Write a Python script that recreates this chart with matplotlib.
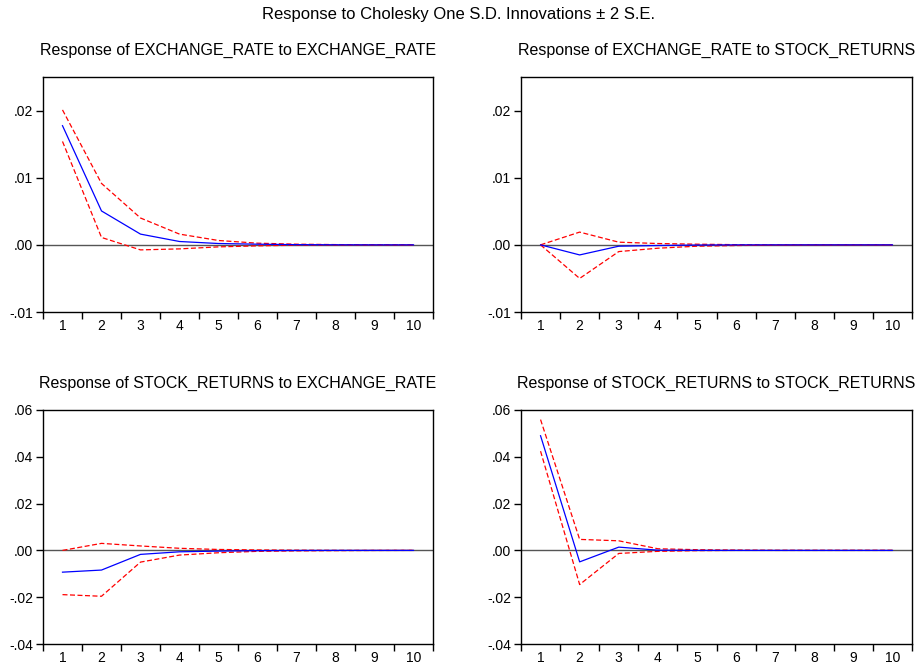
import matplotlib
matplotlib.use("Agg")
import matplotlib.pyplot as plt
import numpy as np
from matplotlib.ticker import FuncFormatter

plt.rcParams['font.family'] = ['Liberation Sans', 'DejaVu Sans']

periods = np.arange(1, 11)

# Response of EXCHANGE_RATE to EXCHANGE_RATE
er_er = [0.01775, 0.00505, 0.0016, 0.0005, 0.0002, 0.0001, 0.00003, 0.00001, 0.0, 0.0]
er_er_up = [0.0201, 0.00915, 0.0040, 0.0016, 0.00065, 0.00025, 0.0001, 0.00004, 0.00001, 0.0]
er_er_lo = [0.0154, 0.0011, -0.00075, -0.0006, -0.0003, -0.00015, -0.00005, -0.00002, 0.0, 0.0]

# Response of EXCHANGE_RATE to STOCK_RETURNS
er_sr = [0.0, -0.0015, -0.0002, -0.0001, -0.00003, 0.0, 0.0, 0.0, 0.0, 0.0]
er_sr_up = [0.0, 0.0019, 0.0004, 0.0002, 0.0001, 0.00003, 0.0, 0.0, 0.0, 0.0]
er_sr_lo = [0.0, -0.0050, -0.0010, -0.0005, -0.0002, -0.0001, -0.00003, 0.0, 0.0, 0.0]

# Response of STOCK_RETURNS to EXCHANGE_RATE
sr_er = [-0.0093, -0.0084, -0.0017, -0.0006, -0.0003, -0.0001, -0.00004, 0.0, 0.0, 0.0]
sr_er_up = [0.0, 0.0030, 0.0019, 0.0009, 0.0004, 0.0002, 0.0001, 0.00003, 0.0, 0.0]
sr_er_lo = [-0.0189, -0.0196, -0.0050, -0.0020, -0.0010, -0.0004, -0.0002, -0.0001, -0.00003, 0.0]

# Response of STOCK_RETURNS to STOCK_RETURNS
sr_sr = [0.0490, -0.0049, 0.0014, 0.0001, 0.0, 0.0, 0.0, 0.0, 0.0, 0.0]
sr_sr_up = [0.0559, 0.0047, 0.0041, 0.0007, 0.0003, 0.0001, 0.0, 0.0, 0.0, 0.0]
sr_sr_lo = [0.0424, -0.0146, -0.0013, -0.0004, -0.0001, 0.0, 0.0, 0.0, 0.0, 0.0]

titles = ["Response of EXCHANGE_RATE to EXCHANGE_RATE",
          "Response of EXCHANGE_RATE to STOCK_RETURNS",
          "Response of STOCK_RETURNS to EXCHANGE_RATE",
          "Response of STOCK_RETURNS to STOCK_RETURNS"]
series = [(er_er, er_er_up, er_er_lo), (er_sr, er_sr_up, er_sr_lo),
          (sr_er, sr_er_up, sr_er_lo), (sr_sr, sr_sr_up, sr_sr_lo)]
ylims = [(-0.01, 0.025), (-0.01, 0.025), (-0.04, 0.06), (-0.04, 0.06)]
yticks = [[-0.01, 0.0, 0.01, 0.02], [-0.01, 0.0, 0.01, 0.02],
          [-0.04, -0.02, 0.0, 0.02, 0.04, 0.06], [-0.04, -0.02, 0.0, 0.02, 0.04, 0.06]]

W, H = 916, 666
# axes boxes in pixels: left, top, right, bottom
boxes = [(43, 77, 433, 312), (521, 77, 912, 312),
         (43, 410, 433, 644), (521, 410, 912, 644)]


def fmt(v, pos):
    s = "%.2f" % v
    if s.startswith("-0"):
        return "-" + s[2:]
    if s.startswith("0"):
        return s[1:]
    return s


fig = plt.figure(figsize=(W / 100, H / 100), dpi=100)
fig.suptitle("Response to Cholesky One S.D. Innovations \u00b1 2 S.E.",
             y=1 - 15 / H, va="center", fontsize=12)

for i in range(4):
    l, t, r, b = boxes[i]
    ax = fig.add_axes([l / W, 1 - b / H, (r - l) / W, (b - t) / H])
    mid, up, lo = series[i]
    ax.axhline(0, color="#555555", lw=1.0, zorder=1)
    ax.plot(periods, up, color="red", lw=0.9, ls=(0, (4, 2)), zorder=2)
    ax.plot(periods, lo, color="red", lw=0.9, ls=(0, (4, 2)), zorder=2)
    ax.plot(periods, mid, color="blue", lw=0.9, zorder=3)
    ax.set_xlim(0.5, 10.5)
    ax.set_ylim(*ylims[i])
    ax.set_yticks(yticks[i])
    ax.yaxis.set_major_formatter(FuncFormatter(fmt))
    ax.set_xticks(periods)
    ax.set_xticks(np.arange(0.5, 11, 1), minor=True)
    ax.tick_params(axis="x", which="major", length=0, labelsize=10, pad=5)
    ax.tick_params(axis="x", which="minor", length=5, width=1, direction="out")
    ax.tick_params(axis="y", length=5, width=1, direction="out", labelsize=10, pad=2)
    for s in ax.spines.values():
        s.set_linewidth(1.0)
    ax.set_title(titles[i], fontsize=11.5, pad=16)

fig.savefig("out.png", dpi=100)
